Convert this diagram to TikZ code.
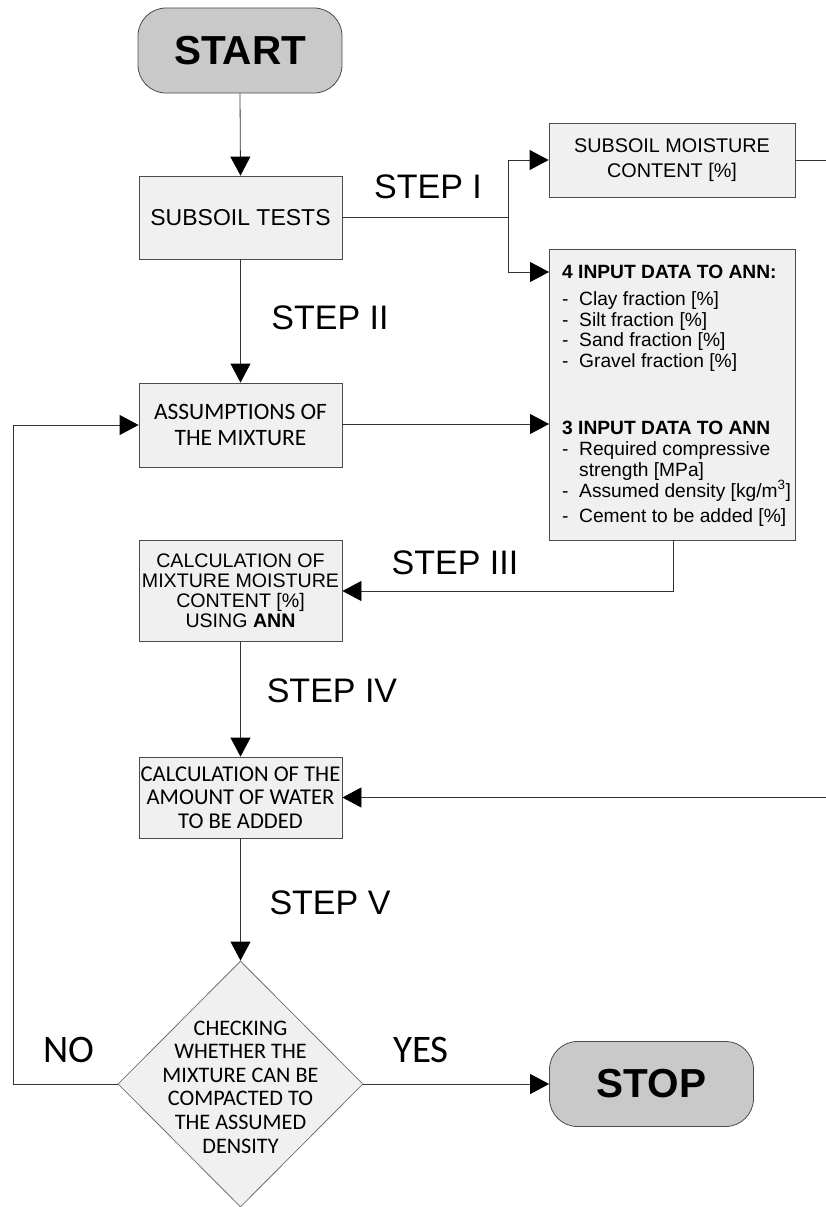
\documentclass[tikz,border=0pt]{standalone}
\usepackage{fontspec}
\setmainfont{Liberation Sans}
\newfontfamily\calib{Carlito}
\usetikzlibrary{arrows.meta,shapes.geometric}
\tikzset{
  boxst/.style={draw=black!70, line width=0.8pt, fill=black!6, inner sep=0pt, align=center, text=black},
  termst/.style={draw=black!70, line width=0.8pt, fill=black!21, rounded corners=28pt, inner sep=0pt,
     minimum width=204pt, minimum height=85pt, font=\fontsize{40.5}{42}\selectfont\bfseries},
  conn/.style={draw=black!80, line width=0.8pt},
  arr/.style={conn, -{Triangle[length=19pt,width=20pt,fill=black,color=black]}},
  steplab/.style={font=\fontsize{34}{36}\selectfont, inner sep=0pt},
  listline/.style={anchor=base west, inner sep=0pt, font=\fontsize{19.2}{20}\selectfont},
}
\newcommand{\dsh}{\makebox[17pt][l]{-}}
\begin{document}
\begin{tikzpicture}[x=1pt,y=-1pt]
\useasboundingbox (0,0) rectangle (826,1207);
% terminals
\node[termst] (start) at (240,50.5) {START};
\node[termst] (stop) at (651.5,1084) {STOP};
% boxes
\node[boxst, minimum width=203pt, minimum height=83pt, font=\fontsize{23}{25}\selectfont] (tests) at (240.5,217.5) {SUBSOIL TESTS};
\node[boxst, minimum width=246pt, minimum height=74pt, font=\fontsize{19.8}{25}\selectfont] (moist) at (672,160) {SUBSOIL MOISTURE\\CONTENT [\%]};
\node[boxst, minimum width=246pt, minimum height=291pt] (inp) at (672,394.5) {};
\node[boxst, minimum width=203pt, minimum height=84pt, font=\calib\fontsize{23.5}{25.5}\selectfont] (assum) at (240.5,425) {ASSUMPTIONS OF\\THE MIXTURE};
\node[boxst, minimum width=203pt, minimum height=101pt, font=\fontsize{19.6}{20}\selectfont] (calcm) at (240.5,591) {CALCULATION OF\\MIXTURE MOISTURE\\CONTENT [\%]\\USING \textbf{ANN}};
\node[boxst, minimum width=203pt, minimum height=81pt, font=\calib\fontsize{22.6}{23.5}\selectfont] (calcw) at (240.5,797.5) {CALCULATION OF THE\\AMOUNT OF WATER\\TO BE ADDED};
\node[draw=black!55, line width=0.8pt, fill=black!6, shape=diamond, inner sep=0pt, minimum width=245pt, minimum height=246pt] (dia) at (240.5,1084) {};
\node[align=center, inner sep=0pt, font=\calib\fontsize{22.2}{23.6}\selectfont] (diatext) at (240.5,1087) {CHECKING\\WHETHER THE\\MIXTURE CAN BE\\COMPACTED TO\\THE ASSUMED\\DENSITY};
% list text in input box
\node[listline] (l1) at (562,278.5) {\textbf{4 INPUT DATA TO ANN:}};
\node[listline] (l2) at (562,305.5) {\dsh Clay fraction [\%]};
\node[listline] (l3) at (562,326) {\dsh Silt fraction [\%]};
\node[listline] (l4) at (562,346.5) {\dsh Sand fraction [\%]};
\node[listline] (l5) at (562,367.5) {\dsh Gravel fraction [\%]};
\node[listline] (l6) at (562,434.5) {\textbf{3 INPUT DATA TO ANN}};
\node[listline] (l7) at (562,455.5) {\dsh Required compressive};
\node[listline] (l8) at (562,476) {\hspace*{17pt}strength [MPa]};
\node[listline] (l9) at (562,497) {\dsh Assumed density [kg/m\textsuperscript{3}]};
\node[listline] (l10) at (562,522) {\dsh Cement to be added [\%]};
% coordinates
\coordinate (j1) at (508,217.5);
\coordinate (inA) at (549,272);
\coordinate (inB) at (549,424);
\coordinate (inS) at (673,540);
\coordinate (mR) at (826,160);
\coordinate (wR) at (826,797.5);
\coordinate (noC) at (13,1084);
% connectors
\draw[arr] (start.south) -- (tests.north);
\draw[conn] (tests.east) -- (j1);
\draw[arr] (j1) |- (moist.west);
\draw[arr] (j1) |- (inA);
\draw[conn] (moist.east) -- (mR);
\draw[arr] (tests.south) -- (assum.north);
\draw[arr] (assum.east |- inB) -- (inB);
\draw[arr] (inS) |- (calcm.east);
\draw[arr] (calcm.south) -- (calcw.north);
\draw[arr] (wR) -- (calcw.east);
\draw[arr] (calcw.south) -- (dia.north);
\draw[arr] (dia.west) -- (noC) |- (assum.west);
\draw[arr] (dia.east) -- (stop.west);
% labels
\node[steplab] (s1) at (428,187) {STEP I};
\node[steplab] (s2) at (330,318) {STEP II};
\node[steplab] (s3) at (455,563) {STEP III};
\node[steplab] (s4) at (332,691) {STEP IV};
\node[steplab] (s5) at (330,903) {STEP V};
\node[inner sep=0pt, font=\calib\fontsize{39}{40}\selectfont] (no) at (69,1050) {NO};
\node[inner sep=0pt, font=\calib\fontsize{39}{40}\selectfont] (yes) at (421,1050) {YES};
\end{tikzpicture}
\end{document}
